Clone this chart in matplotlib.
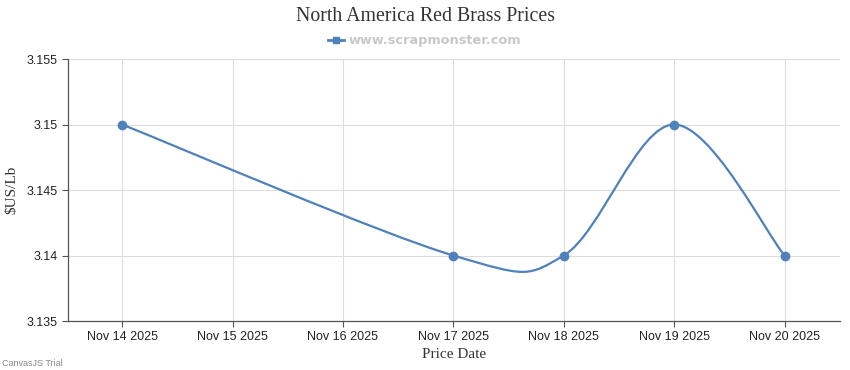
import matplotlib.pyplot as plt
import matplotlib.dates as mdates
from matplotlib.path import Path
from matplotlib.patches import PathPatch
from matplotlib.lines import Line2D
import numpy as np
import datetime as dt

dates = ['2025-11-14', '2025-11-17', '2025-11-18', '2025-11-19', '2025-11-20']
prices = [3.15, 3.14, 3.14, 3.15, 3.14]
tick_days = ['2025-11-14', '2025-11-15', '2025-11-16', '2025-11-17',
             '2025-11-18', '2025-11-19', '2025-11-20']

blue = '#4F81BC'

x = mdates.date2num([dt.date.fromisoformat(d) for d in dates])
y = np.array(prices)
ticks = mdates.date2num([dt.date.fromisoformat(d) for d in tick_days])

fig = plt.figure(figsize=(8.5, 3.7), dpi=100)
ax = fig.add_axes([0.08, 0.1324, 0.908, 0.7081])

# spline through the points (cardinal / catmull-rom bezier segments)
verts = [(x[0], y[0])]
codes = [Path.MOVETO]
n = len(x)
for i in range(n - 1):
    i0 = max(i - 1, 0)
    i3 = min(i + 2, n - 1)
    c1 = (x[i] + (x[i + 1] - x[i0]) / 6, y[i] + (y[i + 1] - y[i0]) / 6)
    c2 = (x[i + 1] - (x[i3] - x[i]) / 6, y[i + 1] - (y[i3] - y[i]) / 6)
    verts += [c1, c2, (x[i + 1], y[i + 1])]
    codes += [Path.CURVE4] * 3
ax.add_patch(PathPatch(Path(verts, codes), facecolor='none', edgecolor=blue, lw=1.6, zorder=3))
ax.plot(x, y, 'o', color=blue, markersize=6, zorder=4)

ax.set_xlim(ticks[0] - 0.49, ticks[-1] + 0.5)
ax.set_ylim(3.135, 3.155)
ax.set_xticks(ticks)
ax.set_xticklabels([mdates.num2date(t).strftime('%b %d %Y') for t in ticks])
ax.set_yticks([3.135, 3.14, 3.145, 3.15, 3.155])
ax.set_yticklabels(['3.135', '3.14', '3.145', '3.15', '3.155'])

ax.grid(True, color='#dddddd', lw=0.8)
ax.set_axisbelow(True)
for s in ['top', 'right']:
    ax.spines[s].set_visible(False)
for s in ['left', 'bottom']:
    ax.spines[s].set_color('#555555')
    ax.spines[s].set_linewidth(0.9)
ax.tick_params(axis='both', colors='#555555', labelcolor='#222222', labelsize=9,
               length=4, width=0.8)
for lab in ax.get_xticklabels() + ax.get_yticklabels():
    lab.set_family('Liberation Sans')

ax.set_xlabel('Price Date', family='Liberation Serif', fontsize=11, color='#333333', labelpad=3)
ax.set_ylabel('\\$US/Lb', family='Liberation Serif', fontsize=11, color='#333333', labelpad=6)

fig.text(0.5, 0.955, 'North America Red Brass Prices', ha='center', va='center',
         family='Liberation Serif', fontsize=14.3, color='#333333')
handle = Line2D([], [], color=blue, lw=2, marker='s', markersize=5)
leg = fig.legend([handle], ['www.scrapmonster.com'], loc='center', bbox_to_anchor=(0.5, 0.89),
                 frameon=False, handlelength=1.2, handletextpad=0.4,
                 prop={'family': 'DejaVu Sans', 'weight': 'bold', 'size': 9.3})
leg.get_texts()[0].set_color('#c8c8c8')
fig.text(0.002, 0.018, 'CanvasJS Trial', ha='left', va='center', fontsize=6.5,
         color='#888888', family='Liberation Sans')

fig.savefig('out.png', dpi=100)
